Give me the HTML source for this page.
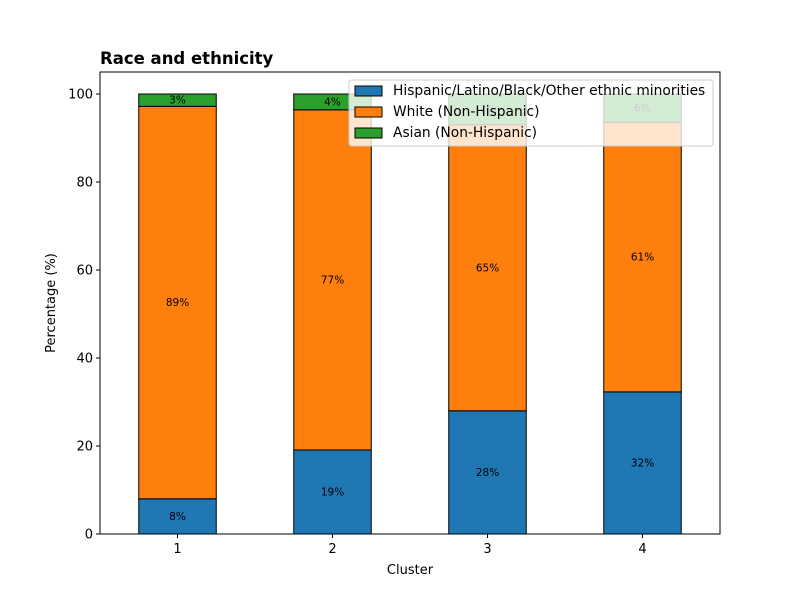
<!DOCTYPE html>
<html><head><meta charset="utf-8"><style>
body{margin:0;background:#fff}
svg{font-family:"DejaVu Sans","Liberation Sans",sans-serif}
</style></head><body>
<svg id="chart" width="800" height="600">
<rect width="800" height="600" fill="#fff"/>
<g id="bars"></g>
<g id="axes"></g>
</svg>
<script>
const categories=["1","2","3","4"];
const seriesNames=["Hispanic/Latino/Black/Other ethnic minorities","White (Non-Hispanic)","Asian (Non-Hispanic)"];
const hispanic=[8.0,19.1,28.0,32.3];
const white=[89.2,77.3,65.0,61.3];
const asian=[2.8,3.6,7.0,6.4];
const yTicks=[0,20,40,60,80,100];
const colors=["#1f77b4","#ff7f0e","#2ca02c"];
const L=100,R=720,T=72,B=534;
const x=i=>L+(i+0.5)*(R-L)/4;
const y=v=>B-(v/105)*(B-T);
const NS="http://www.w3.org/2000/svg";
function mk(t,a,p){const e=document.createElementNS(NS,t);for(const k in a)e.setAttribute(k,a[k]);p.appendChild(e);return e;}
const bars=document.getElementById('bars'),axes=document.getElementById('axes');
const series=[hispanic,white,asian];
const bw=(R-L)/4*0.5;
categories.forEach((c,i)=>{
  let base=0;
  series.forEach((s,j)=>{
    const v=s[i];
    const r=mk('rect',{x:x(i)-bw/2,y:y(base+v),width:bw,height:y(base)-y(base+v),fill:colors[j],stroke:'#000','stroke-width':1},bars);
    
    
    const t=mk('text',{x:x(i),y:y(base+v/2)+3.5,'text-anchor':'middle','font-size':10.5},bars);
    t.textContent=Math.round(v)+'%';
    
    
    base+=v;
  });
});
mk('rect',{x:L,y:T,width:R-L,height:B-T,fill:'none',stroke:'#000','stroke-width':1},axes);
yTicks.forEach(v=>{
  mk('line',{x1:L-4,x2:L,y1:y(v),y2:y(v),stroke:'#000'},axes);
  const t=mk('text',{x:L-7,y:y(v)+4.5,'text-anchor':'end','font-size':13},axes);t.textContent=v;
  
});
categories.forEach((c,i)=>{
  mk('line',{x1:x(i),x2:x(i),y1:B,y2:B+4,stroke:'#000'},axes);
  const t=mk('text',{x:x(i),y:B+19,'text-anchor':'middle','font-size':13},axes);t.textContent=c;
  
});
let t=mk('text',{x:410,y:574,'text-anchor':'middle','font-size':13},axes);t.textContent='Cluster';

t=mk('text',{x:55,y:303,'text-anchor':'middle','font-size':13,transform:'rotate(-90 55 303)'},axes);t.textContent='Percentage (%)';

t=mk('text',{x:100,y:64,'font-size':16.5,'font-weight':'bold'},axes);t.textContent='Race and ethnicity';

const lg=mk('g',{},axes);

mk('rect',{x:349,y:80,width:364,height:66,rx:3,fill:'#fff','fill-opacity':0.8,stroke:'#ccc'},lg);
seriesNames.forEach((n,j)=>{
  const yy=84+j*21;
  mk('rect',{x:355,y:yy+2,width:27,height:10,fill:colors[j],stroke:'#000'},lg);
  const tt=mk('text',{x:393,y:yy+11,'font-size':13.8},lg);tt.textContent=n;
  
});
</script>
</body></html>
